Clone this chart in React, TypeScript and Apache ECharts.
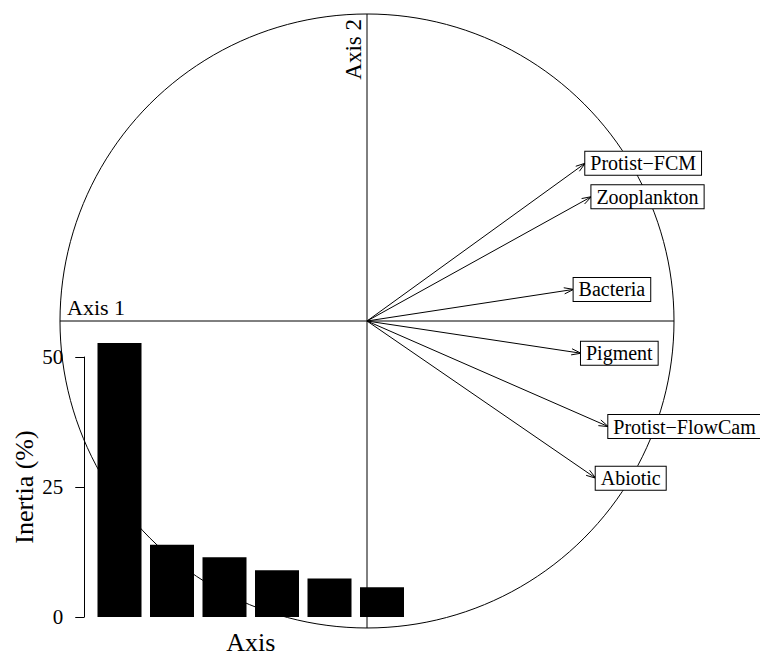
import React, { useEffect, useRef } from "react";
import * as echarts from "echarts";

// Eigenvalue inset (inertia %)
const axisCategories = ["1", "2", "3", "4", "5", "6"];
const inertia = [52.7, 13.9, 11.5, 9.0, 7.4, 5.7];
const inertiaTicks = { min: 0, max: 50, interval: 25 };

// Correlation circle variables
const variables = ["Protist\u2212FCM", "Zooplankton", "Bacteria", "Pigment", "Protist\u2212FlowCam", "Abiotic"];
const axis1Coord = [0.711, 0.731, 0.673, 0.697, 0.786, 0.745];
const axis2Coord = [0.514, 0.405, 0.103, -0.105, -0.344, -0.512];
const axisNames = ["Axis 1", "Axis 2"];

const FONT = '"Liberation Serif", "DejaVu Serif", serif';

export default function App() {
  const ref = useRef<HTMLDivElement>(null);

  useEffect(() => {
    if (!ref.current) return;
    const chart = echarts.init(ref.current, undefined, { renderer: "svg" });

    const frameItem = (params: any, api: any) => {
      const c = api.coord([0, 0]);
      const l = api.coord([-1, 0]);
      const r = api.coord([1, 0]);
      const t = api.coord([0, 1]);
      const b = api.coord([0, -1]);
      const rad = r[0] - c[0];
      const ls = { stroke: "#000", lineWidth: 1, fill: "none" };
      return {
        type: "group",
        children: [
          { type: "circle", shape: { cx: c[0], cy: c[1], r: rad }, style: ls },
          { type: "line", shape: { x1: l[0], y1: l[1], x2: r[0], y2: r[1] }, style: ls },
          { type: "line", shape: { x1: t[0], y1: t[1], x2: b[0], y2: b[1] }, style: ls },
          {
            type: "text",
            style: {
              text: axisNames[0], x: l[0] + 7, y: c[1] - 3,
              align: "left", verticalAlign: "bottom", font: `22px ${FONT}`, fill: "#000",
            },
          },
          {
            type: "text",
            x: c[0] - 2, y: t[1] + 5, rotation: Math.PI / 2,
            style: {
              text: axisNames[1], x: 0, y: 0,
              align: "right", verticalAlign: "bottom", font: `23px ${FONT}`, fill: "#000",
            },
          },
        ],
      };
    };

    const arrowItem = (params: any, api: any) => {
      const o = api.coord([0, 0]);
      const p = api.coord([api.value(0), api.value(1)]);
      const ang = Math.atan2(p[1] - o[1], p[0] - o[0]);
      const L = 10;
      const th = (18 * Math.PI) / 180;
      const h1 = [p[0] - L * Math.cos(ang - th), p[1] - L * Math.sin(ang - th)];
      const h2 = [p[0] - L * Math.cos(ang + th), p[1] - L * Math.sin(ang + th)];
      const ls = { stroke: "#000", lineWidth: 1, fill: "none" };
      return {
        type: "group",
        children: [
          { type: "line", shape: { x1: o[0], y1: o[1], x2: p[0], y2: p[1] }, style: ls },
          { type: "polyline", shape: { points: [h1, p, h2] }, style: ls },
          {
            type: "text",
            z2: 10,
            style: {
              text: variables[params.dataIndex], x: p[0], y: p[1],
              align: "left", verticalAlign: "middle", font: `20px ${FONT}`, fill: "#000",
              backgroundColor: "#fff", borderColor: "#000", borderWidth: 1, padding: [2, 5, 1, 5],
            },
          },
        ],
      };
    };

    const option: any = {
      animation: false,
      backgroundColor: "#fff",
      grid: [
        { left: 60, top: 14, width: 614, height: 614 },
        { left: 93.25, top: 357, width: 315, height: 262 },
      ],
      xAxis: [
        { gridIndex: 0, type: "value", min: -1, max: 1, show: false },
        {
          gridIndex: 1, type: "category", data: axisCategories,
          axisLine: { show: false }, axisTick: { show: false }, axisLabel: { show: false },
          name: "Axis", nameLocation: "middle", nameGap: 12,
          nameTextStyle: { fontFamily: FONT, fontSize: 26, color: "#000" },
        },
      ],
      yAxis: [
        { gridIndex: 0, type: "value", min: -1, max: 1, show: false },
        {
          gridIndex: 1, type: "value", min: inertiaTicks.min, max: inertiaTicks.max, interval: inertiaTicks.interval,
          offset: 9,
          axisLine: { show: true, lineStyle: { color: "#000", width: 1 } },
          axisTick: { show: true, length: 9, lineStyle: { color: "#000", width: 1 } },
          axisLabel: { fontFamily: FONT, fontSize: 21, color: "#000", margin: 21 },
          splitLine: { show: false },
          name: "Inertia (%)", nameLocation: "middle", nameGap: 47,
          nameTextStyle: { fontFamily: FONT, fontSize: 26, color: "#000" },
        },
      ],
      series: [
        {
          type: "custom", xAxisIndex: 0, yAxisIndex: 0, z: 1, clip: false, silent: true,
          data: [[0, 0]], renderItem: frameItem,
        },
        {
          type: "bar", xAxisIndex: 1, yAxisIndex: 1, z: 2, clip: false, silent: true,
          data: inertia, barWidth: 44, itemStyle: { color: "#000" },
        },
        {
          type: "custom", xAxisIndex: 0, yAxisIndex: 0, z: 3, clip: false, silent: true,
          data: variables.map((n, i) => [axis1Coord[i], axis2Coord[i]]),
          encode: { x: 0, y: 1 },
          renderItem: arrowItem,
        },
      ],
    };

    chart.setOption(option);
    return () => chart.dispose();
  }, []);

  return <div ref={ref} style={{ position: "absolute", left: 0, top: 0, width: 760, height: 656 }} />;
}
